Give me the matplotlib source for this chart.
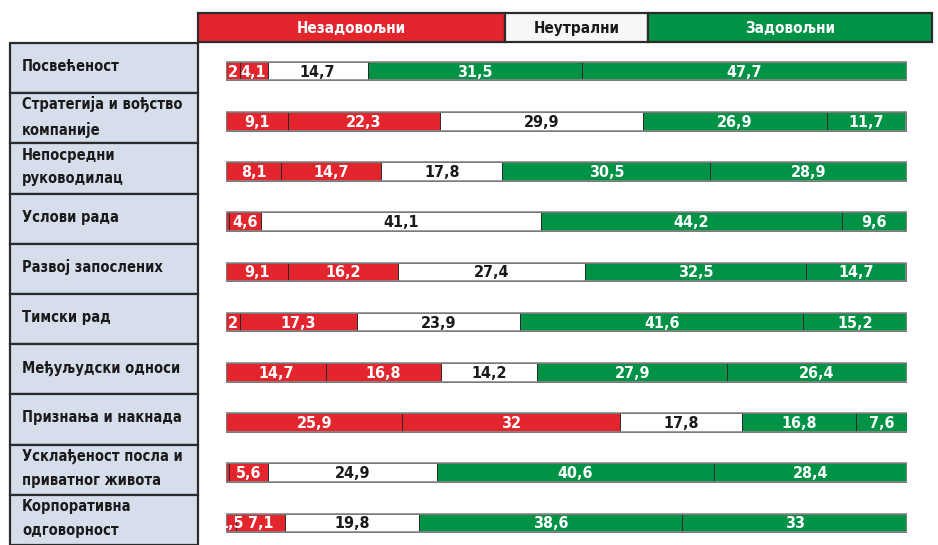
import matplotlib
matplotlib.use("Agg")
import matplotlib.pyplot as plt
from matplotlib.patches import Rectangle

plt.rcParams['font.family'] = ['DejaVu Sans']
plt.rcParams['font.stretch'] = 'condensed'

categories = [
    "Посвећеност",
    "Стратегија и вођство\nкомпаније",
    "Непосредни\nруководилац",
    "Услови рада",
    "Развој запослених",
    "Тимски рад",
    "Међуљудски односи",
    "Признања и накнада",
    "Усклађеност посла и\nприватног живота",
    "Корпоративна\nодговорност",
]
very_dissatisfied = [2, 9.1, 8.1, 0.5, 9.1, 2, 14.7, 25.9, 0.5, 1.5]
dissatisfied      = [4.1, 22.3, 14.7, 4.6, 16.2, 17.3, 16.8, 32, 5.6, 7.1]
neutral           = [14.7, 29.9, 17.8, 41.1, 27.4, 23.9, 14.2, 17.8, 24.9, 19.8]
satisfied         = [31.5, 26.9, 30.5, 44.2, 32.5, 41.6, 27.9, 16.8, 40.6, 38.6]
very_satisfied    = [47.7, 11.7, 28.9, 9.6, 14.7, 15.2, 26.4, 7.6, 28.4, 33]
header_labels = ["Незадовољни", "Неутрални", "Задовољни"]

RED = "#E3262D"
GREEN = "#009245"
WHITE = "#FFFFFF"
PANEL = "#D5DEEA"
EDGE = "#2B2B2B"

W, H = 938, 545
fig = plt.figure(figsize=(W / 100, H / 100), dpi=100)
fig.patch.set_facecolor("white")

def fx(px):
    return px / W

def fy(py):
    return 1 - py / H

n = len(categories)
top_px, bot_px = 43, 545

# ---- label panel ----
axl = fig.add_axes([fx(10), fy(bot_px), fx(198 - 10), (bot_px - top_px) / H])
axl.set_xlim(0, 1)
axl.set_ylim(n, 0)
axl.axis("off")
for i, c in enumerate(categories):
    axl.add_patch(Rectangle((0, i), 1, 1, facecolor=PANEL, edgecolor=EDGE, lw=1.6, clip_on=False))
    axl.text(0.065, i + 0.47, c, ha="left", va="center", fontsize=10.5, fontweight="bold",
             color="#1a1a1a", linespacing=1.7)

# ---- header ----
axh = fig.add_axes([fx(198), fy(42), fx(932 - 198), (42 - 13) / H])
axh.set_xlim(198, 932)
axh.set_ylim(0, 1)
axh.axis("off")
hdr_spans = [(198, 505, RED, "white"), (505, 648, "#F7F7F7", "#1a1a1a"), (648, 932, GREEN, "white")]
for (x0, x1, fc, tc), lab in zip(hdr_spans, header_labels):
    axh.add_patch(Rectangle((x0, 0), x1 - x0, 1, facecolor=fc, edgecolor=EDGE, lw=1.6, clip_on=False))
    axh.text((x0 + x1) / 2, 0.45, lab, ha="center", va="center", fontsize=11,
             fontweight="bold", color=tc)

# ---- bars ----
ax = fig.add_axes([fx(226), fy(bot_px), fx(907 - 226), (bot_px - top_px) / H])
ax.set_xlim(0, 100)
ax.set_ylim(n, 0)
ax.axis("off")

series = [
    (very_dissatisfied, RED, "white"),
    (dissatisfied, RED, "white"),
    (neutral, WHITE, "#1a1a1a"),
    (satisfied, GREEN, "white"),
    (very_satisfied, GREEN, "white"),
]
ypos = [i + 0.56 for i in range(n)]
bh = 0.37
left = [0.0] * n
for vals, col, tcol in series:
    ax.barh(ypos, vals, left=left, height=bh, color=col, edgecolor=EDGE, linewidth=0.7, zorder=2)
    for i, v in enumerate(vals):
        if v >= 1:
            s = ("%g" % v).replace(".", ",")
            ax.text(left[i] + v / 2, ypos[i] + 0.02, s, ha="center", va="center",
                    fontsize=11.5, fontweight="bold", color=tcol, zorder=4)
    left = [l + v for l, v in zip(left, vals)]

# gray outline around each full bar
ax.barh(ypos, left, left=0, height=bh, color="none", edgecolor="#8a8a8a", linewidth=1.2, zorder=3)

fig.savefig("out.png", dpi=100)
